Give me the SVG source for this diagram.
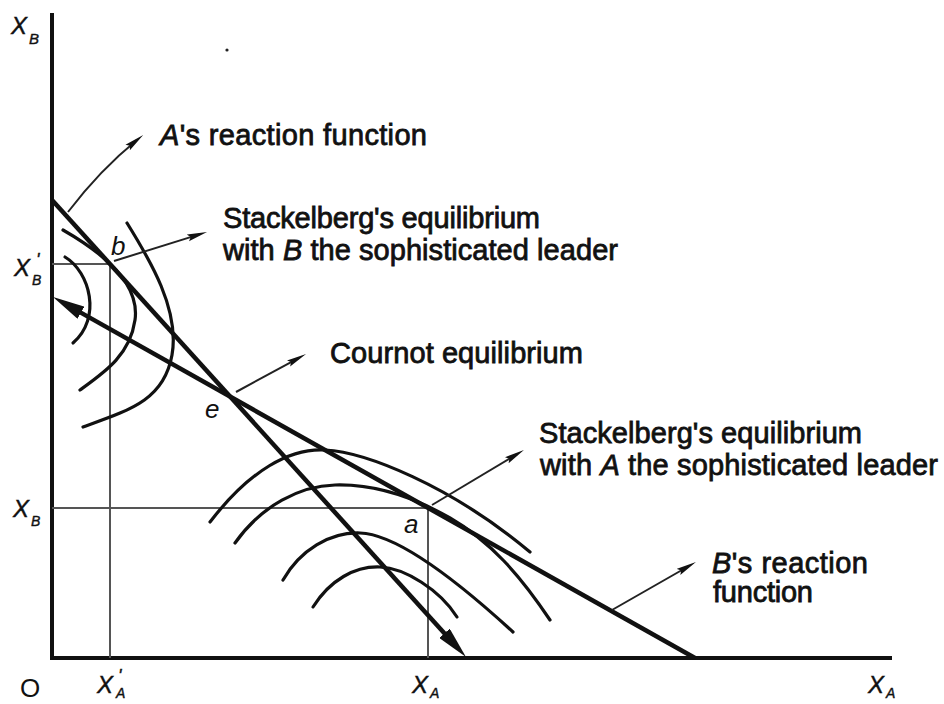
<svg xmlns="http://www.w3.org/2000/svg" width="944" height="704" viewBox="0 0 944 704">
<style>
  .axis { stroke:#111; stroke-width:4; fill:none; stroke-linecap:square; }
  .guide { stroke:#555; stroke-width:2; fill:none; }
  .react { stroke:#111; stroke-width:4.5; fill:none; }
  .iso { stroke:#111; stroke-width:3.2; fill:none; stroke-linecap:round; }
  .lead { stroke:#222; stroke-width:2; fill:none; }
  .lbl { font-family:"Liberation Sans", Arial, sans-serif; font-size:29px; fill:#111; stroke:#111; stroke-width:0.8; }
  .pt { font-family:"Liberation Sans", Arial, sans-serif; font-size:26px; font-style:italic; fill:#111; }
  .ax { font-family:"Liberation Sans", Arial, sans-serif; font-style:italic; fill:#111; stroke:#111; stroke-width:0.4; }
  .it { font-style:italic; }
</style>
<defs>
  <marker id="ah" markerUnits="userSpaceOnUse" viewBox="0 0 20 8" refX="12" refY="4" markerWidth="20" markerHeight="8" orient="auto">
    <path d="M0,0.5 L20,4 L0,7.5 L3,4 z" fill="#111"/>
  </marker>
  <marker id="big" markerUnits="userSpaceOnUse" viewBox="0 0 32 14" refX="17" refY="7" markerWidth="32" markerHeight="14" orient="auto">
    <path d="M0,0 L32,7 L0,14 z" fill="#111"/>
  </marker>
</defs>

<g id="axes">
  <line class="axis" x1="52" y1="15" x2="52" y2="658"/>
  <line class="axis" x1="52" y1="658" x2="890" y2="658"/>
</g>

<g id="guides">
  <polyline class="guide" points="52,264 110,264 110,658"/>
  <polyline class="guide" points="52,508 428,508 428,658"/>
</g>

<g id="reaction-A">
  <path class="react" d="M52,200 L455.9,645.9" marker-end="url(#big)"/>
</g>
<g id="reaction-B">
  <path class="react" d="M695,658 L66.1,304.4" marker-end="url(#big)"/>
</g>

<g id="isoprofit-B">
  <path class="iso" d="M65,257 C90,272 102,318 73,343"/>
  <path class="iso" d="M63,230 C105,254 140,285 135,320 C130,355 105,372 80,390"/>
  <path class="iso" d="M127,223 C150,260 180,310 172,355 C164,400 130,410 83,427"/>
</g>

<g id="isoprofit-A">
  <path class="iso" d="M210,522 C250,470 290,448 325,450 C365,452 450,485 530,552"/>
  <path class="iso" d="M235,543 C262,505 300,486 335,485 C370,484 410,495 450,518 C490,541 520,575 550,620"/>
  <path class="iso" d="M283,580 C300,550 330,532 360,533 C390,534 440,565 513,632"/>
  <path class="iso" d="M313,607 C330,580 355,566 380,567 C405,568 440,590 457,617"/>
</g>

<g id="connectors">
  <path class="lead" d="M68,212 Q100,170 137,140" marker-end="url(#ah)"/>
  <path class="lead" d="M114,261 L199.4,234.4" marker-end="url(#ah)"/>
  <path class="lead" d="M236,392 L299,357.8" marker-end="url(#ah)"/>
  <path class="lead" d="M432,505 L517.1,454.1" marker-end="url(#ah)"/>
  <path class="lead" d="M612,610 L689,566" marker-end="url(#ah)"/>
</g>

<g id="label-A-reaction">
  <text class="lbl" x="160" y="145" textLength="267"><tspan class="it">A</tspan>'s reaction function</text>
</g>
<g id="label-stackelberg-B">
  <text class="lbl" x="223" y="228" textLength="317">Stackelberg's equilibrium</text>
  <text class="lbl" x="223" y="260" textLength="395">with <tspan class="it">B</tspan> the sophisticated leader</text>
</g>
<g id="label-cournot">
  <text class="lbl" x="330" y="363" textLength="253">Cournot equilibrium</text>
</g>
<g id="label-stackelberg-A">
  <text class="lbl" x="539" y="443" textLength="323">Stackelberg's equilibrium</text>
  <text class="lbl" x="540" y="475" textLength="398">with <tspan class="it">A</tspan> the sophisticated leader</text>
</g>
<g id="label-B-reaction">
  <text class="lbl" x="712" y="573" textLength="156"><tspan class="it">B</tspan>'s reaction</text>
  <text class="lbl" x="713" y="602" textLength="100">function</text>
</g>

<g id="points">
  <text class="pt" x="111" y="255">b</text>
  <text class="pt" x="205" y="418">e</text>
  <text class="pt" x="404" y="533">a</text>
</g>

<g id="axis-labels">
  <text class="ax" x="11" y="34" font-size="24">X</text>
  <text class="ax" x="29" y="44" font-size="15">B</text>
  <text class="ax" x="14" y="276" font-size="24">X</text>
  <text class="ax" x="36" y="266" font-size="18">'</text>
  <text class="ax" x="32" y="285" font-size="14">B</text>
  <text class="ax" x="13" y="517" font-size="24">X</text>
  <text class="ax" x="31" y="526" font-size="14">B</text>
  <text x="20" y="697" font-family="Liberation Sans, Arial, sans-serif" font-size="26" fill="#111">O</text>
  <text class="ax" x="97" y="693" font-size="24">X</text>
  <text class="ax" x="118" y="682" font-size="18">'</text>
  <text class="ax" x="116" y="698" font-size="14">A</text>
  <text class="ax" x="412" y="693" font-size="24">X</text>
  <text class="ax" x="430" y="698" font-size="14">A</text>
  <text class="ax" x="868" y="693" font-size="24">X</text>
  <text class="ax" x="886" y="698" font-size="14">A</text>
</g>

<circle cx="227" cy="50" r="1.6" fill="#222"/>
</svg>
